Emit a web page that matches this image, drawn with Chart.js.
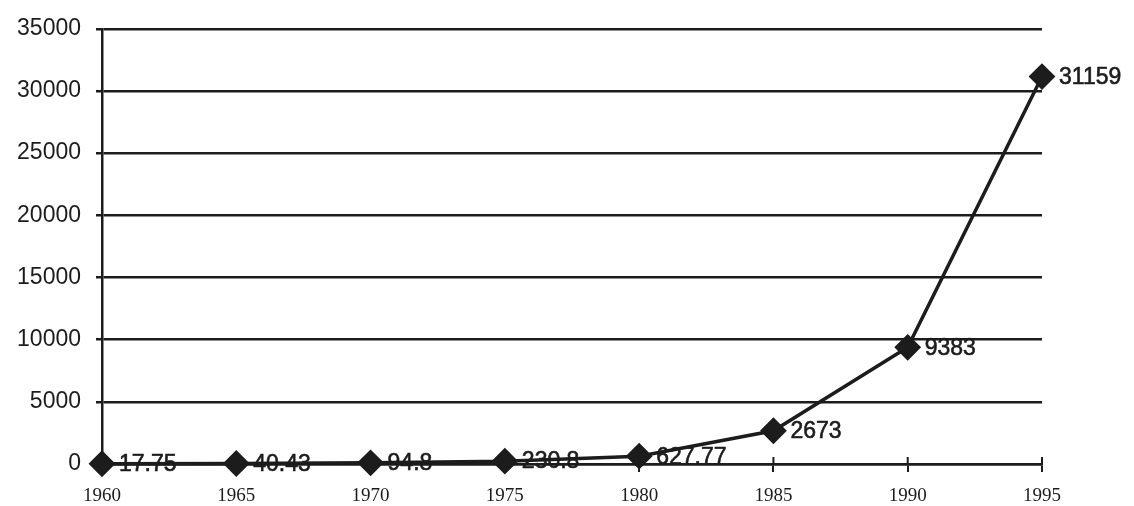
<!DOCTYPE html>
<html>
<head>
<meta charset="utf-8">
<script src="https://cdn.jsdelivr.net/npm/chart.js@4.4.1/dist/chart.umd.min.js"></script>
<style>
  html, body { margin: 0; padding: 0; background: #fff; }
  #wrap { width: 1134px; height: 506px; position: relative; }
</style>
</head>
<body>
<div id="wrap"><canvas id="c" width="1134" height="506"></canvas></div>
<script>
const years = ['1960', '1965', '1970', '1975', '1980', '1985', '1990', '1995'];
const values = [17.75, 40.43, 94.8, 230.8, 627.77, 2673, 9383, 31159];
const valueLabels = ['17.75', '40.43', '94.8', '230.8', '627.77', '2673', '9383', '31159'];
const yTicks = [0, 5000, 10000, 15000, 20000, 25000, 30000, 35000];

const INK = '#1c1c1c';

const pointLabels = {
  id: 'pointLabels',
  afterDatasetsDraw(chart) {
    const ctx = chart.ctx;
    const meta = chart.getDatasetMeta(0);
    ctx.save();
    ctx.font = '23px "Liberation Sans", Arial, sans-serif';
    ctx.fillStyle = INK;
    ctx.strokeStyle = INK;
    ctx.lineWidth = 0.6;
    ctx.textAlign = 'left';
    ctx.textBaseline = 'middle';
    meta.data.forEach((pt, i) => {
      ctx.fillText(valueLabels[i], pt.x + 17, pt.y + 1);
      ctx.strokeText(valueLabels[i], pt.x + 17, pt.y + 1);
    });
    ctx.restore();
  }
};

const upTicks = {
  id: 'upTicks',
  afterDraw(chart) {
    const ctx = chart.ctx;
    const xs = chart.scales.x;
    const y0 = chart.scales.y.getPixelForValue(0);
    ctx.save();
    ctx.strokeStyle = INK;
    ctx.lineWidth = 2;
    xs.ticks.forEach((t, i) => {
      const x = xs.getPixelForTick(i);
      ctx.beginPath();
      ctx.moveTo(x, y0 - 7);
      ctx.lineTo(x, y0);
      ctx.stroke();
    });
    ctx.restore();
  }
};

new Chart(document.getElementById('c'), {
  type: 'line',
  data: {
    labels: years,
    datasets: [{
      data: values,
      borderColor: INK,
      borderWidth: 3.5,
      backgroundColor: INK,
      pointStyle: 'rectRot',
      pointRadius: 12,
      pointBorderWidth: 2,
      pointBackgroundColor: INK,
      pointBorderColor: INK,
      tension: 0,
      clip: false
    }]
  },
  options: {
    responsive: false,
    animation: false,
    devicePixelRatio: 1,
    layout: { padding: { top: 26, right: 92, left: 0, bottom: 0 } },
    plugins: {
      legend: { display: false },
      tooltip: { enabled: false }
    },
    scales: {
      x: {
        type: 'category',
        offset: false,
        border: { display: true, color: INK, width: 2.5 },
        grid: { display: true, drawOnChartArea: false, drawTicks: true, tickLength: 8, color: INK, lineWidth: 2 },
        ticks: {
          color: INK,
          padding: 13,
          maxRotation: 0,
          autoSkip: false,
          font: { family: '"Liberation Serif", "Times New Roman", serif', size: 19 }
        },
        afterFit(scale) { scale.height = 42; }
      },
      y: {
        min: 0,
        max: 35000,
        afterBuildTicks(scale) { scale.ticks = yTicks.map(v => ({ value: v })); },
        border: { display: true, color: INK, width: 2.5 },
        grid: { color: INK, lineWidth: 2.5, tickLength: 6, drawTicks: true },
        ticks: {
          color: INK,
          padding: 15,
          font: { family: '"Liberation Sans", Arial, sans-serif', size: 23 },
          callback: v => String(v)
        },
        afterFit(scale) { scale.width = 102; }
      }
    }
  },
  plugins: [pointLabels, upTicks]
});
</script>
</body>
</html>
